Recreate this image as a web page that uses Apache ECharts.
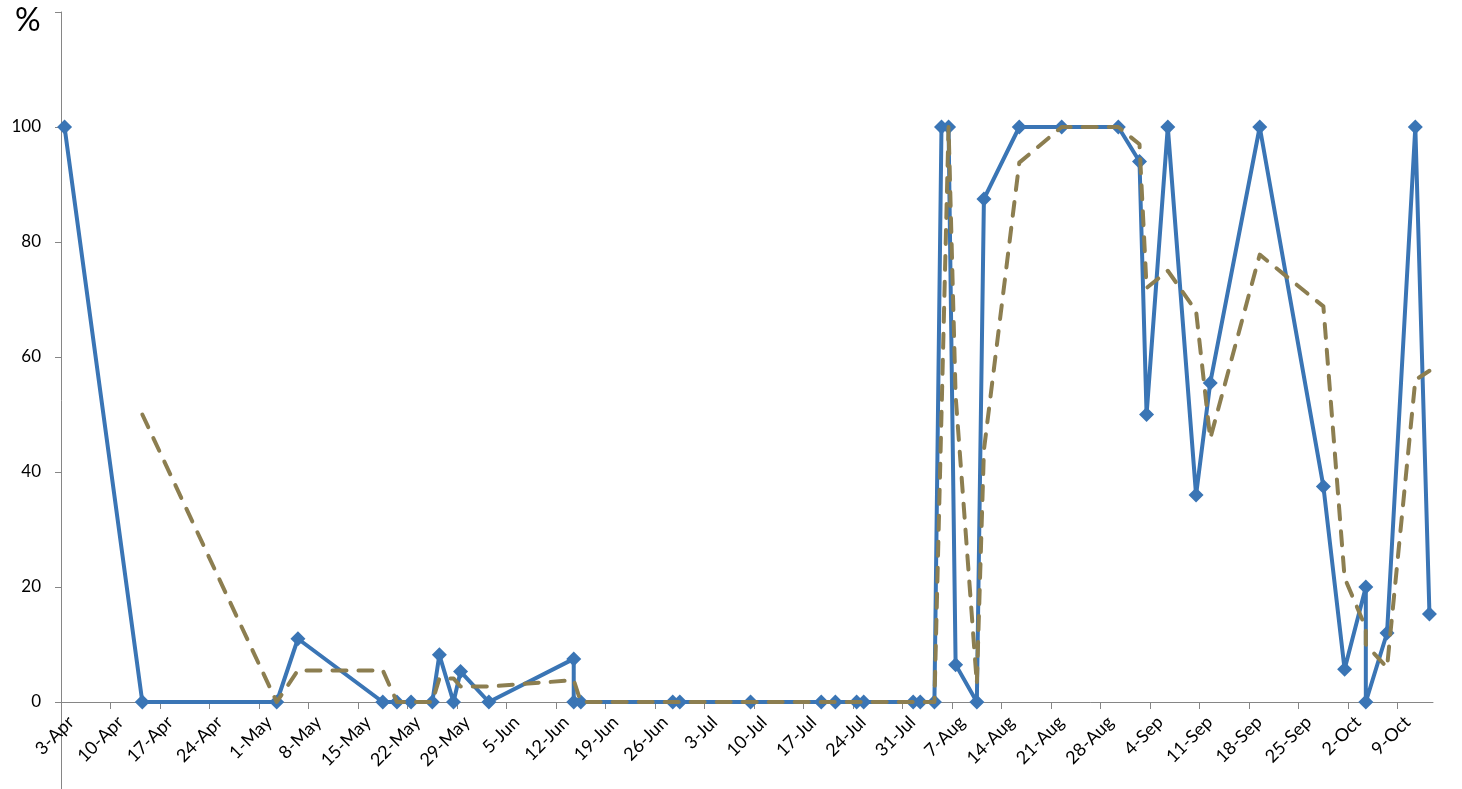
<!DOCTYPE html>
<html><head><meta charset="utf-8">
<script src="https://cdn.jsdelivr.net/npm/echarts@6/dist/echarts.min.js"></script>
<style>html,body{margin:0;padding:0;background:#fff}#c{width:1462px;height:789px}</style>
</head><body><div id="c"></div>
<script>
const YEAR = 2017;
const dates = ['2017-04-03','2017-04-14','2017-05-03','2017-05-06','2017-05-18','2017-05-20','2017-05-22','2017-05-25','2017-05-26','2017-05-28','2017-05-29','2017-06-02','2017-06-14','2017-06-14','2017-06-15','2017-06-28','2017-06-29','2017-07-09','2017-07-19','2017-07-21','2017-07-24','2017-07-25','2017-08-01','2017-08-02','2017-08-04','2017-08-05','2017-08-06','2017-08-07','2017-08-10','2017-08-11','2017-08-16','2017-08-22','2017-08-30','2017-09-02','2017-09-03','2017-09-06','2017-09-10','2017-09-12','2017-09-19','2017-09-28','2017-10-01','2017-10-04','2017-10-04','2017-10-07','2017-10-11','2017-10-13'];
const shareValues = [100,0,0,11,0,0,0,0,8.2,0,5.3,0,7.5,0,0,0,0,0,0,0,0,0,0,0,0,100,100,6.5,0,87.5,100,100,100,94,50,100,36,55.5,100,37.5,5.7,20,0,12,100,15.3];
const movingAvgValues = [null,50,0,5.5,5.5,0,0,0,4.1,4.1,2.7,2.7,3.8,3.8,0,0,0,0,0,0,0,0,0,0,0,50,100,53.2,3.2,43.8,93.8,100,100,97,72,75,68,45.8,77.8,68.8,21.6,12.9,10,6,56,57.6];
const xTickLabels = ['3-Apr','10-Apr','17-Apr','24-Apr','1-May','8-May','15-May','22-May','29-May','5-Jun','12-Jun','19-Jun','26-Jun','3-Jul','10-Jul','17-Jul','24-Jul','31-Jul','7-Aug','14-Aug','21-Aug','28-Aug','4-Sep','11-Sep','18-Sep','25-Sep','2-Oct','9-Oct'];
const yTickValues = [0,20,40,60,80,100];
const yUnit = '%';

const MON = ['Jan','Feb','Mar','Apr','May','Jun','Jul','Aug','Sep','Oct','Nov','Dec'];
const DAY = 86400000;
function dayStart(s){ const p = s.split('-').map(Number); return Date.UTC(p[0], p[1]-1, p[2]); }
function labelStart(l){ const p = l.split('-'); return Date.UTC(YEAR, MON.indexOf(p[1]), +p[0]); }
const origin = labelStart(xTickLabels[0]);
function dayIndex(t){ return Math.round((t - origin) / DAY); }

// each day is a band [n, n+1]; marks sit in the middle of their day
const tickPos = xTickLabels.map(l => dayIndex(labelStart(l)));
const labelPos = tickPos.map(t => t + 0.5);
const labelByPos = {};
labelPos.forEach((p, i) => { labelByPos[p] = xTickLabels[i]; });
const xMax = dayIndex(dayStart(dates[dates.length - 1])) + 1;

const blue = '#3a75b5';
const olive = '#8c7e50';
const axisGray = '#868686';
const font = 'Lato, "Open Sans", sans-serif';

const Y_MIN = -20, Y_MAX = 120;
const gridTop = 12, gridBottom = -28, H = 789;
const gridH = H - gridTop - gridBottom;
// lift the horizontal axis from the grid bottom up to the value 0
const zeroOffset = -gridH * (0 - Y_MIN) / (Y_MAX - Y_MIN);

const chart = echarts.init(document.getElementById('c'));
chart.setOption({
  animation: false,
  backgroundColor: '#fff',
  grid: { left: 61, right: 29, top: gridTop, bottom: gridBottom, containLabel: false, outerBoundsMode: 'none' },
  graphic: [{ type: 'text', left: 15, top: 5, style: { text: yUnit, fontSize: 32, fontFamily: font, fill: '#000' } }],
  xAxis: {
    type: 'value', min: 0, max: xMax, position: 'bottom', offset: zeroOffset,
    axisLine: { onZero: false, lineStyle: { color: axisGray, width: 1 } },
    axisTick: { show: true, length: 7, customValues: tickPos, lineStyle: { color: axisGray } },
    axisLabel: {
      customValues: labelPos, rotate: 45, align: 'right', verticalAlign: 'top', margin: 11,
      fontSize: 18, fontFamily: font, color: '#000',
      formatter: v => labelByPos[v] || ''
    },
    splitLine: { show: false }
  },
  yAxis: {
    type: 'value', min: Y_MIN, max: Y_MAX, interval: 20,
    axisLine: { show: true, lineStyle: { color: axisGray, width: 1 } },
    axisTick: { show: true, length: 6, lineStyle: { color: axisGray } },
    axisLabel: {
      margin: 20, fontSize: 17, fontFamily: font, color: '#000',
      formatter: v => (yTickValues.indexOf(v) >= 0 ? String(v) : '')
    },
    splitLine: { show: false }
  },
  series: [
    {
      type: 'line', z: 2,
      data: dates.map((d, i) => [dayIndex(dayStart(d)) + 0.5, shareValues[i]]),
      symbol: 'diamond', symbolSize: 15,
      itemStyle: { color: blue },
      lineStyle: { color: blue, width: 4, join: 'round' }
    },
    {
      type: 'line', z: 3,
      data: dates.map((d, i) => [dayIndex(dayStart(d)) + 0.5, movingAvgValues[i] == null ? '-' : movingAvgValues[i]]),
      symbol: 'none', connectNulls: false,
      lineStyle: { color: olive, width: 4, type: [14, 12], cap: 'round', join: 'round' }
    }
  ]
});
</script></body></html>
